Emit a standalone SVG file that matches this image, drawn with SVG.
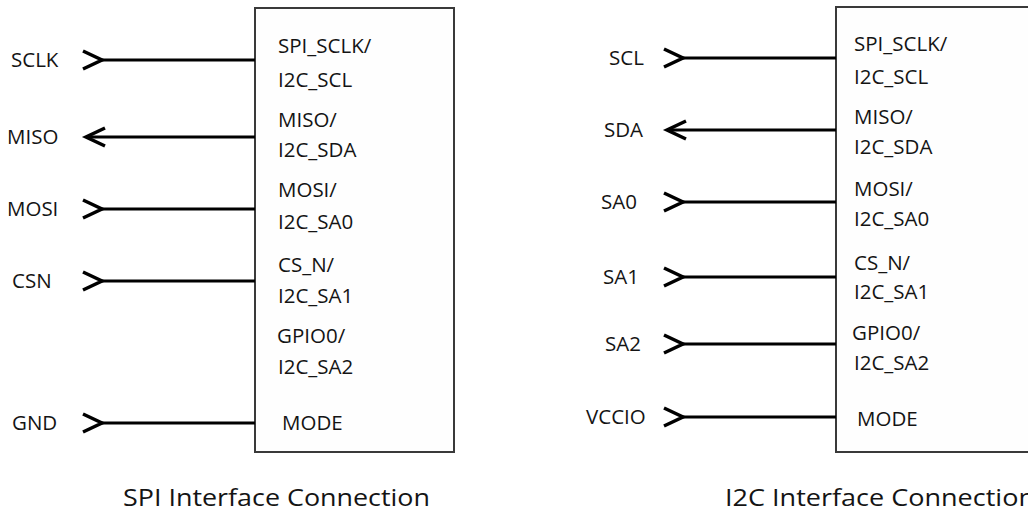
<svg xmlns="http://www.w3.org/2000/svg" width="1028" height="511" viewBox="0 0 1028 511">
<style>
text{font-family:"Open Sans","Noto Sans","Liberation Sans",sans-serif;font-size:20.5px;fill:#141414}
.title{font-size:23px}
.box{fill:#fefefe;stroke:#3a3a3a;stroke-width:2}
.wire{stroke:#000;stroke-width:3;fill:none}
.chev{stroke:#000;stroke-width:3.5;fill:none;stroke-linejoin:miter;stroke-linecap:butt}
</style>
<rect width="1028" height="511" fill="#ffffff"/>

<g id="spi-chip">
<rect class="box" x="255" y="8" width="199" height="444"/>
<text x="278" y="53">SPI_SCLK/</text>
<text x="278" y="87">I2C_SCL</text>
<text x="278" y="127">MISO/</text>
<text x="278" y="157">I2C_SDA</text>
<text x="278" y="197">MOSI/</text>
<text x="278" y="229">I2C_SA0</text>
<text x="278" y="272">CS_N/</text>
<text x="278" y="303">I2C_SA1</text>
<text x="277" y="343">GPIO0/</text>
<text x="278" y="374">I2C_SA2</text>
<text x="282" y="430">MODE</text>
</g>

<g id="i2c-chip">
<rect class="box" x="836" y="7" width="200" height="445"/>
<text x="854" y="51">SPI_SCLK/</text>
<text x="854" y="84">I2C_SCL</text>
<text x="854" y="124">MISO/</text>
<text x="854" y="154">I2C_SDA</text>
<text x="854" y="196">MOSI/</text>
<text x="854" y="226">I2C_SA0</text>
<text x="854" y="270">CS_N/</text>
<text x="854" y="299">I2C_SA1</text>
<text x="852" y="340">GPIO0/</text>
<text x="854" y="370">I2C_SA2</text>
<text x="857" y="426">MODE</text>
</g>

<g id="spi-labels">
<text x="11" y="67">SCLK</text>
<text x="7" y="144">MISO</text>
<text x="7" y="216">MOSI</text>
<text x="12" y="288">CSN</text>
<text x="12" y="430">GND</text>
</g>

<g id="i2c-labels">
<text x="609" y="65">SCL</text>
<text x="604" y="137">SDA</text>
<text x="601" y="209">SA0</text>
<text x="603" y="284">SA1</text>
<text x="605" y="351">SA2</text>
<text x="586" y="424">VCCIO</text>
</g>

<g id="connectors">
<line class="wire" x1="101" y1="60" x2="255" y2="60"/>
<polyline class="chev" points="83,51 102,60 83,69"/>
<line class="wire" x1="86" y1="137" x2="255" y2="137"/>
<polyline class="chev" points="105,128 86,137 105,146"/>
<line class="wire" x1="101" y1="209" x2="255" y2="209"/>
<polyline class="chev" points="83,200 102,209 83,218"/>
<line class="wire" x1="101" y1="281" x2="255" y2="281"/>
<polyline class="chev" points="83,272 102,281 83,290"/>
<line class="wire" x1="101" y1="423" x2="255" y2="423"/>
<polyline class="chev" points="83,414 102,423 83,432"/>

<line class="wire" x1="682" y1="58" x2="836" y2="58"/>
<polyline class="chev" points="664,49 683,58 664,67"/>
<line class="wire" x1="667" y1="130" x2="836" y2="130"/>
<polyline class="chev" points="686,121 667,130 686,139"/>
<line class="wire" x1="682" y1="202" x2="836" y2="202"/>
<polyline class="chev" points="664,193 683,202 664,211"/>
<line class="wire" x1="682" y1="277" x2="836" y2="277"/>
<polyline class="chev" points="664,268 683,277 664,286"/>
<line class="wire" x1="682" y1="344" x2="836" y2="344"/>
<polyline class="chev" points="664,335 683,344 664,353"/>
<line class="wire" x1="682" y1="417" x2="836" y2="417"/>
<polyline class="chev" points="664,408 683,417 664,426"/>
</g>

<g id="captions">
<text class="title" x="123" y="506" textLength="307" lengthAdjust="spacingAndGlyphs">SPI Interface Connection</text>
<text class="title" x="725" y="506" textLength="310" lengthAdjust="spacingAndGlyphs">I2C Interface Connection</text>
</g>
</svg>
